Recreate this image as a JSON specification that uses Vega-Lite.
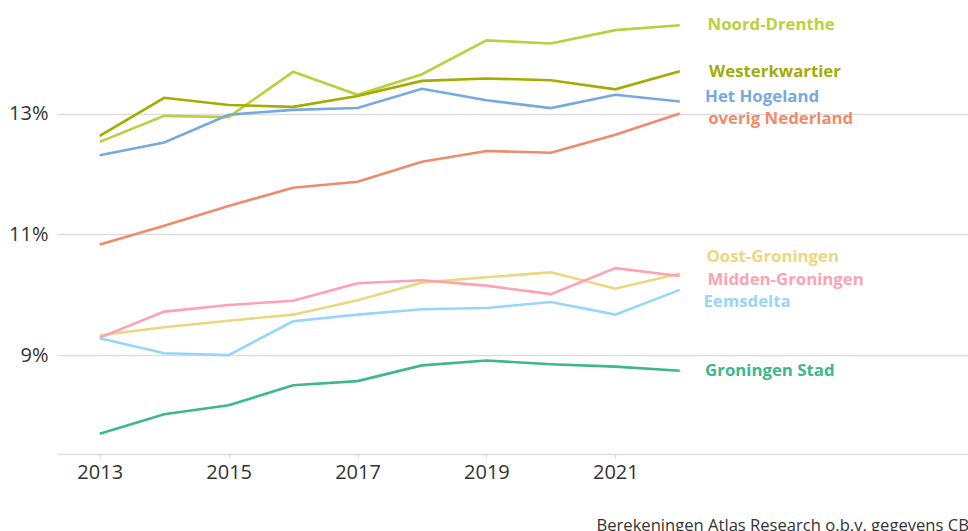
{
  "$schema": "https://vega.github.io/schema/vega-lite/v6.json",
  "width": 911,
  "height": 454,
  "padding": {"left": 57, "top": 0, "right": 0, "bottom": 77},
  "autosize": {"type": "none"},
  "background": "white",
  "config": {
    "view": {"stroke": null},
    "font": "Open Sans",
    "axis": {"labelFont": "Open Sans", "titleFont": "Open Sans"}
  },
  "datasets": {
    "series": [
      {"region": "Noord-Drenthe", "year": 2013, "pct": 12.53},
      {"region": "Noord-Drenthe", "year": 2014, "pct": 12.96},
      {"region": "Noord-Drenthe", "year": 2015, "pct": 12.94},
      {"region": "Noord-Drenthe", "year": 2016, "pct": 13.69},
      {"region": "Noord-Drenthe", "year": 2017, "pct": 13.31},
      {"region": "Noord-Drenthe", "year": 2018, "pct": 13.65},
      {"region": "Noord-Drenthe", "year": 2019, "pct": 14.21},
      {"region": "Noord-Drenthe", "year": 2020, "pct": 14.16},
      {"region": "Noord-Drenthe", "year": 2021, "pct": 14.38},
      {"region": "Noord-Drenthe", "year": 2022, "pct": 14.46},
      {"region": "Westerkwartier", "year": 2013, "pct": 12.63},
      {"region": "Westerkwartier", "year": 2014, "pct": 13.26},
      {"region": "Westerkwartier", "year": 2015, "pct": 13.14},
      {"region": "Westerkwartier", "year": 2016, "pct": 13.11},
      {"region": "Westerkwartier", "year": 2017, "pct": 13.29},
      {"region": "Westerkwartier", "year": 2018, "pct": 13.54},
      {"region": "Westerkwartier", "year": 2019, "pct": 13.58},
      {"region": "Westerkwartier", "year": 2020, "pct": 13.55},
      {"region": "Westerkwartier", "year": 2021, "pct": 13.40},
      {"region": "Westerkwartier", "year": 2022, "pct": 13.70},
      {"region": "Het Hogeland", "year": 2013, "pct": 12.31},
      {"region": "Het Hogeland", "year": 2014, "pct": 12.52},
      {"region": "Het Hogeland", "year": 2015, "pct": 12.98},
      {"region": "Het Hogeland", "year": 2016, "pct": 13.06},
      {"region": "Het Hogeland", "year": 2017, "pct": 13.09},
      {"region": "Het Hogeland", "year": 2018, "pct": 13.41},
      {"region": "Het Hogeland", "year": 2019, "pct": 13.22},
      {"region": "Het Hogeland", "year": 2020, "pct": 13.09},
      {"region": "Het Hogeland", "year": 2021, "pct": 13.31},
      {"region": "Het Hogeland", "year": 2022, "pct": 13.20},
      {"region": "overig Nederland", "year": 2013, "pct": 10.83},
      {"region": "overig Nederland", "year": 2014, "pct": 11.14},
      {"region": "overig Nederland", "year": 2015, "pct": 11.47},
      {"region": "overig Nederland", "year": 2016, "pct": 11.77},
      {"region": "overig Nederland", "year": 2017, "pct": 11.87},
      {"region": "overig Nederland", "year": 2018, "pct": 12.20},
      {"region": "overig Nederland", "year": 2019, "pct": 12.38},
      {"region": "overig Nederland", "year": 2020, "pct": 12.35},
      {"region": "overig Nederland", "year": 2021, "pct": 12.65},
      {"region": "overig Nederland", "year": 2022, "pct": 13.00},
      {"region": "Oost-Groningen", "year": 2013, "pct": 9.33},
      {"region": "Oost-Groningen", "year": 2014, "pct": 9.46},
      {"region": "Oost-Groningen", "year": 2015, "pct": 9.57},
      {"region": "Oost-Groningen", "year": 2016, "pct": 9.67},
      {"region": "Oost-Groningen", "year": 2017, "pct": 9.91},
      {"region": "Oost-Groningen", "year": 2018, "pct": 10.20},
      {"region": "Oost-Groningen", "year": 2019, "pct": 10.29},
      {"region": "Oost-Groningen", "year": 2020, "pct": 10.37},
      {"region": "Oost-Groningen", "year": 2021, "pct": 10.10},
      {"region": "Oost-Groningen", "year": 2022, "pct": 10.35},
      {"region": "Midden-Groningen", "year": 2013, "pct": 9.29},
      {"region": "Midden-Groningen", "year": 2014, "pct": 9.72},
      {"region": "Midden-Groningen", "year": 2015, "pct": 9.83},
      {"region": "Midden-Groningen", "year": 2016, "pct": 9.90},
      {"region": "Midden-Groningen", "year": 2017, "pct": 10.19},
      {"region": "Midden-Groningen", "year": 2018, "pct": 10.24},
      {"region": "Midden-Groningen", "year": 2019, "pct": 10.15},
      {"region": "Midden-Groningen", "year": 2020, "pct": 10.01},
      {"region": "Midden-Groningen", "year": 2021, "pct": 10.44},
      {"region": "Midden-Groningen", "year": 2022, "pct": 10.31},
      {"region": "Eemsdelta", "year": 2013, "pct": 9.28},
      {"region": "Eemsdelta", "year": 2014, "pct": 9.03},
      {"region": "Eemsdelta", "year": 2015, "pct": 9.00},
      {"region": "Eemsdelta", "year": 2016, "pct": 9.56},
      {"region": "Eemsdelta", "year": 2017, "pct": 9.67},
      {"region": "Eemsdelta", "year": 2018, "pct": 9.76},
      {"region": "Eemsdelta", "year": 2019, "pct": 9.78},
      {"region": "Eemsdelta", "year": 2020, "pct": 9.88},
      {"region": "Eemsdelta", "year": 2021, "pct": 9.67},
      {"region": "Eemsdelta", "year": 2022, "pct": 10.08},
      {"region": "Groningen Stad", "year": 2013, "pct": 7.70},
      {"region": "Groningen Stad", "year": 2014, "pct": 8.02},
      {"region": "Groningen Stad", "year": 2015, "pct": 8.17},
      {"region": "Groningen Stad", "year": 2016, "pct": 8.50},
      {"region": "Groningen Stad", "year": 2017, "pct": 8.57},
      {"region": "Groningen Stad", "year": 2018, "pct": 8.83},
      {"region": "Groningen Stad", "year": 2019, "pct": 8.91},
      {"region": "Groningen Stad", "year": 2020, "pct": 8.85},
      {"region": "Groningen Stad", "year": 2021, "pct": 8.81},
      {"region": "Groningen Stad", "year": 2022, "pct": 8.74}
    ],
    "labels": [
      {"region": "Noord-Drenthe", "labelYear": 2022.43, "labelPct": 14.46},
      {"region": "Westerkwartier", "labelYear": 2022.455, "labelPct": 13.69},
      {"region": "Het Hogeland", "labelYear": 2022.393, "labelPct": 13.28},
      {"region": "overig Nederland", "labelYear": 2022.44, "labelPct": 12.91},
      {"region": "Oost-Groningen", "labelYear": 2022.414, "labelPct": 10.63},
      {"region": "Midden-Groningen", "labelYear": 2022.43, "labelPct": 10.25},
      {"region": "Eemsdelta", "labelYear": 2022.367, "labelPct": 9.88},
      {"region": "Groningen Stad", "labelYear": 2022.393, "labelPct": 8.74}
    ]
  },
  "layer": [
    {
      "data": {"name": "series"},
      "mark": {"type": "line", "strokeWidth": 2.6, "clip": false},
      "encoding": {
        "x": {
          "field": "year", "type": "quantitative",
          "scale": {"domain": [2012.337, 2026.472], "nice": false, "zero": false},
          "axis": {
            "values": [2013, 2015, 2017, 2019, 2021],
            "format": "d",
            "grid": false,
            "domainColor": "#dddddd",
            "domainWidth": 1.5,
            "tickColor": "#dddddd",
            "tickWidth": 1.2,
            "tickSize": 4,
            "labelFontSize": 20,
            "labelColor": "#333333",
            "labelPadding": 4,
            "title": "Berekeningen Atlas Research o.b.v. gegevens CBS",
            "titleFontSize": 16.6,
            "titleFontWeight": "normal",
            "titleColor": "#333333",
            "titleAlign": "left",
            "titleBaseline": "alphabetic",
            "titleAnchor": "start",
            "titleX": 539,
            "titleY": 76.5
          }
        },
        "y": {
          "field": "pct", "type": "quantitative",
          "scale": {"domain": [7.363, 14.879], "nice": false, "zero": false},
          "axis": {
            "values": [9, 11, 13],
            "labelExpr": "datum.value + '%'",
            "domain": false,
            "ticks": false,
            "grid": true,
            "gridColor": "#dddddd",
            "gridWidth": 1.5,
            "labelFontSize": 20,
            "labelColor": "#333333",
            "labelPadding": 9,
            "title": null
          }
        },
        "color": {
          "field": "region", "type": "nominal",
          "scale": {
            "domain": ["Noord-Drenthe", "Westerkwartier", "Het Hogeland", "overig Nederland", "Oost-Groningen", "Midden-Groningen", "Eemsdelta", "Groningen Stad"],
            "range": ["#b9d03f", "#a2ad00", "#76aadf", "#ef8b6b", "#ecd781", "#ffa1b4", "#97d6fb", "#3db88c"]
          },
          "legend": null
        }
      }
    },
    {
      "data": {"name": "labels"},
      "mark": {"type": "text", "align": "left", "baseline": "middle", "fontSize": 16.8, "fontWeight": "bold", "font": "Open Sans", "clip": false},
      "encoding": {
        "x": {"field": "labelYear", "type": "quantitative"},
        "y": {"field": "labelPct", "type": "quantitative"},
        "text": {"field": "region"},
        "color": {"field": "region", "type": "nominal", "legend": null}
      }
    }
  ]
}
